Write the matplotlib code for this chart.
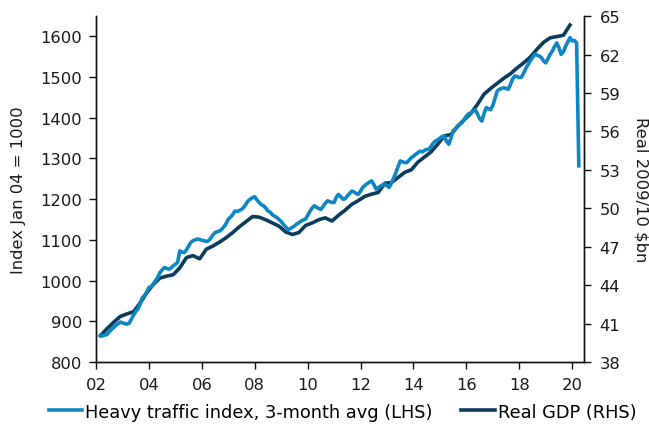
import matplotlib
matplotlib.use("Agg")
import matplotlib.pyplot as plt
import pandas as pd

# heavy traffic index, 3-month avg, monthly Mar 2002 - Apr 2020 (LHS)
traffic = [
    865, 864, 866, 868, 874, 880, 885, 890, 894, 898,                         # 2002 (Mar-Dec)
    896, 894, 893, 895, 905, 915, 924, 930, 942, 958, 963, 972,               # 2003
    983, 985, 992, 1000, 1008, 1020, 1026, 1032, 1030, 1028, 1031, 1036,      # 2004
    1040, 1045, 1073, 1070, 1069, 1075, 1085, 1094, 1098, 1100, 1102, 1101,   # 2005
    1099, 1098, 1096, 1098, 1104, 1112, 1118, 1120, 1122, 1126, 1132, 1140,   # 2006
    1151, 1156, 1162, 1171, 1170, 1172, 1175, 1180, 1188, 1196, 1200, 1204,   # 2007
    1206, 1198, 1192, 1186, 1184, 1178, 1171, 1168, 1162, 1158, 1155, 1150,   # 2008
    1145, 1138, 1132, 1126, 1127, 1131, 1134, 1139, 1142, 1146, 1149, 1151,   # 2009
    1160, 1170, 1178, 1184, 1180, 1177, 1175, 1182, 1190, 1196, 1194, 1192,   # 2010
    1192, 1205, 1212, 1206, 1200, 1201, 1208, 1214, 1220, 1218, 1214, 1212,   # 2011
    1220, 1229, 1234, 1238, 1242, 1245, 1236, 1225, 1228, 1232, 1235, 1237,   # 2012
    1233, 1229, 1240, 1252, 1265, 1280, 1294, 1292, 1290, 1290, 1296, 1302,   # 2013
    1306, 1310, 1314, 1318, 1316, 1320, 1322, 1323, 1330, 1338, 1343, 1346,   # 2014
    1350, 1354, 1355, 1342, 1335, 1350, 1368, 1372, 1378, 1384, 1388, 1396,   # 2015
    1404, 1410, 1412, 1416, 1420, 1410, 1398, 1392, 1410, 1425, 1422, 1420,   # 2016
    1430, 1448, 1466, 1470, 1472, 1474, 1472, 1470, 1482, 1496, 1503, 1501,   # 2017
    1499, 1500, 1510, 1522, 1531, 1540, 1548, 1556, 1554, 1552, 1548, 1540,   # 2018
    1535, 1545, 1556, 1564, 1575, 1584, 1572, 1556, 1562, 1576, 1586, 1597,   # 2019
    1589, 1590, 1584, 1282,                                                   # 2020 (Jan-Apr)
]

# real GDP, quarterly 2002Q1 - 2019Q4 (RHS)
gdp = [
    40.05, 40.6, 41.1, 41.55,
    41.75, 41.92, 42.6, 43.4,
    44.05, 44.55, 44.7, 44.81,
    45.35, 46.15, 46.3, 46.05,
    46.8, 47.05, 47.35, 47.7,
    48.1, 48.55, 48.95, 49.35,
    49.3, 49.1, 48.85, 48.6,
    48.15, 47.95, 48.1, 48.65,
    48.85, 49.1, 49.25, 49.0,
    49.45, 49.85, 50.3, 50.6,
    50.93, 51.1, 51.23, 51.95,
    52.0, 52.4, 52.8, 53.0,
    53.6, 54.0, 54.4, 55.0,
    55.65, 55.75, 56.4, 56.9,
    57.4, 58.1, 58.9, 59.35,
    59.75, 60.15, 60.5, 60.95,
    61.35, 61.8, 62.4, 62.95,
    63.3, 63.4, 63.5, 64.3,
]

months = pd.date_range("2002-03-01", periods=len(traffic), freq="MS")
quarters = pd.date_range("2002-03-01", periods=len(gdp), freq="3MS")


def to_year(d):
    return d.year + (d.month - 1) / 12.0


x_traffic = to_year(months)
x_gdp = to_year(quarters)

light_blue = "#0e86c3"
navy = "#0b3c5d"

plt.rcParams["font.family"] = "DejaVu Sans"
fs = 11.8

fig = plt.figure(figsize=(6.49, 4.27), dpi=100)
ax = fig.add_axes([0.148, 0.15, 0.752, 0.81])
ax2 = ax.twinx()

l1, = ax.plot(x_traffic, traffic, color=light_blue, lw=2.6,
              label="Heavy traffic index, 3-month avg (LHS)", zorder=3)
l2, = ax2.plot(x_gdp, gdp, color=navy, lw=2.6, label="Real GDP (RHS)", zorder=2)

ax.set_xlim(2002, 2020.45)
ax.set_ylim(800, 1650)
ax2.set_ylim(38, 65)

ax.set_xticks(range(2002, 2021, 2))
ax.set_xticklabels(["%02d" % (y % 100) for y in range(2002, 2021, 2)])
ax.set_yticks(range(800, 1601, 100))
ax2.set_yticks(range(38, 66, 3))

for a in (ax, ax2):
    a.spines["top"].set_visible(False)
    for s in a.spines.values():
        s.set_linewidth(1.0)
        s.set_color("#111111")
    a.tick_params(direction="out", length=5, width=1, colors="#111111",
                  labelcolor="#1a1a1a", labelsize=fs)
ax.tick_params(axis="x", pad=6)
ax.tick_params(axis="y", pad=5)
ax2.tick_params(axis="y", pad=6)

ax.set_ylabel("Index Jan 04 = 1000", fontsize=fs, color="#1a1a1a", labelpad=10)
ax2.set_ylabel("Real 2009/10 $bn", fontsize=fs, color="#1a1a1a",
               rotation=-90, labelpad=20)

# put the traffic line above the GDP line
ax.set_zorder(ax2.get_zorder() + 1)
ax.patch.set_visible(False)

fig.legend(handles=[l1, l2], loc="lower center", bbox_to_anchor=(0.528, -0.025),
           ncol=2, frameon=False, fontsize=12.8, handlelength=1.9,
           handletextpad=0.17, columnspacing=1.6)

fig.savefig("out.png", dpi=100)
